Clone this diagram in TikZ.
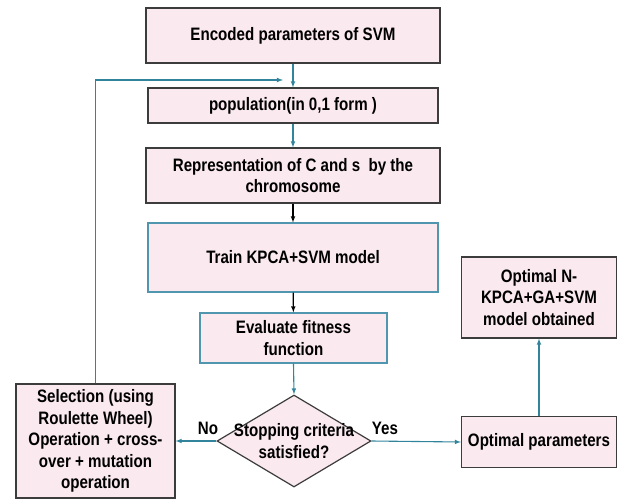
\documentclass[tikz,border=0pt]{standalone}
\usepackage{fontspec}
\setmainfont{Liberation Sans}[FakeStretch=0.84]
\usetikzlibrary{shapes.geometric}
\definecolor{boxpink}{RGB}{250,233,239}
\definecolor{boxedge}{RGB}{60,60,60}
\definecolor{flowteal}{RGB}{49,132,155}
\definecolor{edgeteal}{RGB}{80,150,175}

\begin{document}
\begin{tikzpicture}[
        x=1pt, y=-1pt,
        >=latex,
        font=\fontsize{18}{21.5}\selectfont\bfseries,
        stepbox/.style={draw=boxedge, fill=boxpink, line width=1.2pt, align=center, inner sep=2pt},
        tealbox/.style={stepbox, draw=edgeteal},
        decision/.style={diamond, draw=boxedge, fill=boxpink, line width=1.2pt, inner sep=0pt},
        flow/.style={->, flowteal, line width=1.1pt},
        blackflow/.style={->, black, line width=1.1pt}
    ]
    \useasboundingbox (0,0) rectangle (619,499);

    % --- Main column ---
    \node[stepbox, minimum width=294, minimum height=55] (encoded) at (293,35.5) {Encoded parameters of SVM};
    \node[stepbox, minimum width=290, minimum height=35] (population) at (293,105.5) {population(in 0,1 form )};
    \node[stepbox, minimum width=294, minimum height=55] (represent) at (293,175.5) {Representation of C and s\ \ by the\\chromosome};
    \node[tealbox, minimum width=290, minimum height=69] (train) at (293,257.5) {Train KPCA+SVM model};
    \node[tealbox, minimum width=187, minimum height=50] (fitness) at (293.5,338) {Evaluate fitness\\function};

    % --- Decision ---
    \node[decision, minimum width=154, minimum height=92] (stop) at (294,441) {};
    \node[align=center] (stoptext) at (stop) {Stopping criteria\\satisfied?};

    % --- Side boxes ---
    \node[stepbox, minimum width=159, minimum height=114] (select) at (95.5,441) {Selection (using\\Roulette Wheel)\\Operation + cross-\\over + mutation\\operation};
    \node[stepbox, minimum width=155, minimum height=51] (optparam) at (539,442) {Optimal parameters};
    \node[stepbox, minimum width=155, minimum height=81] (optmodel) at (539,297.5) {Optimal N-\\KPCA+GA+SVM\\model obtained};

    % --- Labels ---
    \node (no) at (208,428) {No};
    \node (yes) at (385,428) {Yes};

    % --- Connectors ---
    \coordinate (loopend) at (283,80);
    \draw[flow] (encoded) -- (population);
    \draw[flow] (population) -- (represent);
    \draw[blackflow] (represent) -- (train);
    \draw[blackflow] (train) -- (fitness);
    \draw[flow] (fitness.south) -- (stop.north);
    \draw[flow] (stop.west) -- (select.east);
    \draw[flow] (stop.east) -- (optparam.west);
    \draw[flow] (optparam) -- (optmodel);
    \draw[flow] (select.north) |- (loopend);

\end{tikzpicture}
\end{document}
